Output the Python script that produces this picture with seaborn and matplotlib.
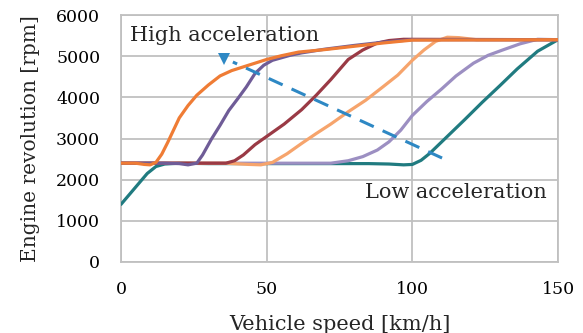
import matplotlib
matplotlib.use("Agg")
import matplotlib.pyplot as plt
import seaborn as sns
import pandas as pd

# --- data ---
orange_x = [0, 5, 8, 10, 12, 14, 16, 18, 20, 23, 26, 30, 34, 38, 42, 46, 50, 55, 61, 70, 80, 90, 100, 150]
orange_y = [2400, 2400, 2370, 2360, 2420, 2620, 2900, 3200, 3500, 3800, 4050, 4300, 4520, 4650, 4740, 4830, 4920, 5010, 5100, 5160, 5240, 5320, 5390, 5400]

dpurple_x = [0, 15, 20, 23, 26, 28, 31, 34, 37, 40, 43, 46, 49, 52, 55, 58, 62, 70, 80, 90, 100, 150]
dpurple_y = [2400, 2400, 2390, 2360, 2400, 2600, 2980, 3320, 3680, 3960, 4250, 4580, 4780, 4900, 4960, 5020, 5080, 5170, 5260, 5340, 5400, 5400]

dred_x = [0, 20, 36, 39, 42, 46, 50, 56, 62, 67, 72, 78, 83, 88, 92, 97, 150]
dred_y = [2400, 2400, 2400, 2460, 2600, 2850, 3050, 3350, 3700, 4050, 4430, 4920, 5150, 5320, 5380, 5410, 5400]

lorange_x = [0, 20, 36, 44, 48, 52, 57, 62, 67, 72, 78, 84, 90, 95, 100, 104, 108, 112, 116, 122, 150]
lorange_y = [2400, 2400, 2400, 2370, 2360, 2420, 2630, 2880, 3120, 3350, 3650, 3930, 4260, 4540, 4900, 5150, 5360, 5460, 5450, 5400, 5400]

lpurple_x = [0, 20, 40, 60, 72, 78, 83, 88, 92, 96, 100, 105, 110, 115, 121, 126, 131, 137, 143, 150]
lpurple_y = [2400, 2400, 2400, 2400, 2400, 2460, 2560, 2720, 2920, 3200, 3560, 3900, 4200, 4520, 4830, 5020, 5150, 5300, 5410, 5400]

teal_x = [0, 3, 6, 9, 12, 15, 20, 30, 50, 70, 85, 92, 97, 100, 103, 106, 112, 118, 124, 130, 136, 143, 150]
teal_y = [1400, 1650, 1900, 2150, 2320, 2380, 2400, 2390, 2390, 2390, 2390, 2380, 2360, 2370, 2470, 2640, 3050, 3460, 3880, 4280, 4690, 5120, 5400]

arrow_x = [110.2, 38.4]
arrow_y = [2526, 4858]
arrow_tip = (35.4, 4930)

series_names = ["s1", "s2", "s3", "s4", "s5", "s6"]
series_data = [(orange_x, orange_y), (dpurple_x, dpurple_y), (dred_x, dred_y),
               (lorange_x, lorange_y), (lpurple_x, lpurple_y), (teal_x, teal_y)]
colors = ["#ef7c35", "#6f5c97", "#9a3a45", "#f6a46c", "#9c8fc2", "#207b80"]

x_ticks = [0, 50, 100, 150]
y_ticks = [0, 1000, 2000, 3000, 4000, 5000, 6000]

rows = []
for name, (xs, ys) in zip(series_names, series_data):
    for i, (xv, yv) in enumerate(zip(xs, ys)):
        rows.append({"speed": xv, "rpm": yv, "series": name, "order": i})
df = pd.DataFrame(rows)

sns.set_theme(style="white")
plt.rcParams["font.family"] = ["DejaVu Serif"]

fig = plt.figure(figsize=(5.83, 3.33), dpi=100)
ax = fig.add_axes([121/583, 1 - 262/333, 437/583, 247/333])

# draw from the back (teal) to the front (orange)
for name, col in reversed(list(zip(series_names, colors))):
    sub = df[df["series"] == name]
    sns.lineplot(data=sub, x="speed", y="rpm", color=col, linewidth=2.3,
                 sort=False, estimator=None, ax=ax, legend=False, zorder=3)

# dashed arrow
ax.plot(arrow_x, arrow_y, color="#2e88c4", linewidth=2.2, dashes=(5, 3.2), zorder=4)
ax.plot([arrow_tip[0]], [arrow_tip[1]], marker="v", markersize=9, color="#2e88c4",
        markeredgewidth=0, zorder=4)

ax.set_xlim(0, 150)
ax.set_ylim(0, 6000)
ax.set_xticks(x_ticks)
ax.set_yticks(y_ticks)
ax.grid(True, color="#c0c0c0", linewidth=1.3)
for s in ax.spines.values():
    s.set_color("#c0c0c0")
    s.set_linewidth(1.3)
ax.tick_params(axis="both", length=0, labelsize=12.5, colors="black")
ax.tick_params(axis="y", pad=15)
ax.tick_params(axis="x", pad=14)

ax.set_xlabel("Vehicle speed [km/h]", fontsize=15)
ax.set_ylabel("Engine revolution [rpm]", fontsize=14.5)
ax.xaxis.set_label_coords(0.5, -0.252)
ax.yaxis.set_label_coords(-0.208, 0.5)
ax.xaxis.label.set_va("center")
ax.yaxis.label.set_va("center")

ax.text(3.1, 5500, "High acceleration", fontsize=15, ha="left", va="center", zorder=5)
ax.text(146, 1680, "Low acceleration", fontsize=15, ha="right", va="center", zorder=5)

fig.savefig("out.png", dpi=100)
